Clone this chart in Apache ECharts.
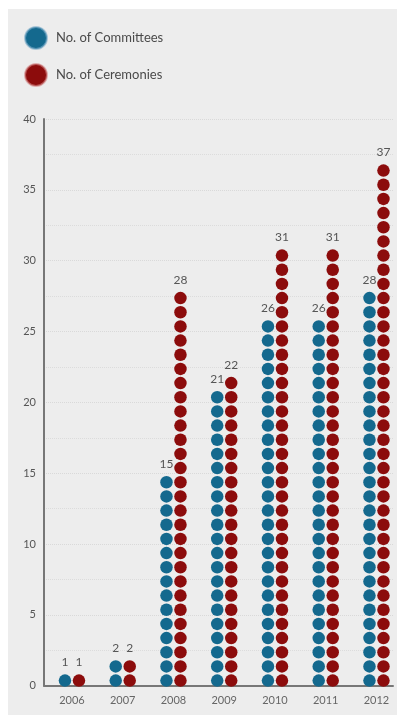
<!DOCTYPE html>
<html>
<head>
<meta charset="utf-8">
<script src="https://cdn.jsdelivr.net/npm/echarts@6/dist/echarts.min.js"></script>
<style>
  html, body { margin: 0; padding: 0; background: #ffffff; }
  #chart { width: 399px; height: 719px; }
</style>
</head>
<body>
<div id="chart"></div>
<script>
// Committees and ceremonies per year, one dot per unit
const years = ['2006', '2007', '2008', '2009', '2010', '2011', '2012'];
const committees = [1, 2, 15, 21, 26, 26, 28];
const ceremonies = [1, 2, 28, 22, 31, 31, 37];
const seriesNames = ['No. of Committees', 'No. of Ceremonies'];
const yTicks = [0, 5, 10, 15, 20, 25, 30, 35, 40];

const FONT = 'Lato, "Open Sans", sans-serif';
const BLUE = '#14698e';
const RED = '#8c0c0c';

const chart = echarts.init(document.getElementById('chart'), null, { renderer: 'canvas' });

// Grid geometry: the dot grid is slightly wider than the visible axis frame
const plotTop = 119;
const plotHeight = 566.7;

function dotSeries(name, values, color, halo) {
  return {
    name: name,
    type: 'pictorialBar',
    xAxisIndex: 0,
    yAxisIndex: 0,
    barWidth: 14,
    barGap: '0%',
    symbol: 'circle',
    symbolSize: [12.5, 12.5],
    symbolMargin: '0!',
    symbolOffset: [0, 2],
    symbolPosition: 'start',
    itemStyle: { color: color, borderColor: halo, borderWidth: 1 },
    label: {
      show: true,
      position: 'top',
      distance: 3,
      color: '#555555',
      fontSize: 12,
      fontFamily: FONT
    },
    // one dot per unit: repeat count and bounding length both equal the value
    data: values.map(function (v) {
      return { value: v, symbolRepeat: v, symbolBoundingData: v };
    }),
    z: 3
  };
}

const option = {
  animation: false,
  backgroundColor: '#ffffff',
  graphic: [{
    type: 'rect',
    shape: { x: 8, y: 9, width: 389, height: 706 },
    style: { fill: '#ededed' },
    z: -10,
    silent: true
  }],
  legend: {
    orient: 'vertical',
    left: 19,
    top: 21,
    itemWidth: 22,
    itemHeight: 22,
    itemGap: 13,
    icon: 'circle',
    textStyle: { color: '#4a4a4a', fontSize: 13, fontFamily: FONT, padding: [0, 0, 0, 4] },
    data: seriesNames
  },
  grid: [
    { left: 46.6, top: plotTop, width: 355.25, height: plotHeight, outerBoundsMode: 'none' },
    { left: 44, top: plotTop, width: 349, height: plotHeight, outerBoundsMode: 'none' }
  ],
  xAxis: [
    {
      type: 'category',
      gridIndex: 0,
      data: years,
      axisLine: { show: false },
      axisTick: { show: false },
      axisLabel: { color: '#666666', fontSize: 11, fontFamily: FONT, margin: 9 }
    },
    {
      type: 'category',
      gridIndex: 1,
      data: years,
      axisLine: { show: true, lineStyle: { color: '#777777', width: 2 } },
      axisTick: { show: false },
      axisLabel: { show: false }
    }
  ],
  yAxis: [
    {
      type: 'value',
      gridIndex: 0,
      min: yTicks[0],
      max: yTicks[yTicks.length - 1],
      show: false
    },
    {
      type: 'value',
      gridIndex: 1,
      min: yTicks[0],
      max: yTicks[yTicks.length - 1],
      interval: yTicks[1] - yTicks[0],
      axisLine: { show: true, lineStyle: { color: '#777777', width: 2 } },
      axisTick: { show: false },
      axisLabel: { color: '#555555', fontSize: 11, fontFamily: FONT, margin: 8 },
      splitLine: { show: true, lineStyle: { color: '#d9d9d9', type: 'dotted', width: 1 } },
      minorTick: { show: false, splitNumber: 2 },
      minorSplitLine: { show: true, lineStyle: { color: '#dcdcdc', type: 'dotted', width: 1 } }
    }
  ],
  series: [
    dotSeries(seriesNames[0], committees, BLUE, 'rgba(120,170,200,0.6)'),
    dotSeries(seriesNames[1], ceremonies, RED, 'rgba(210,130,130,0.6)')
  ]
};

chart.setOption(option);
</script>
</body>
</html>
